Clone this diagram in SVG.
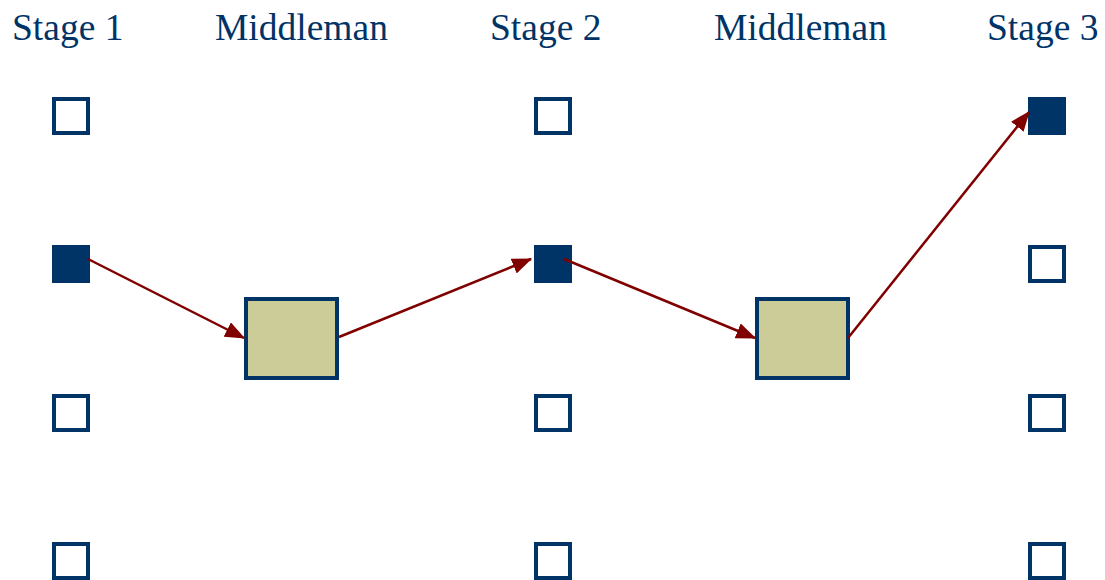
<svg xmlns="http://www.w3.org/2000/svg" width="1105" height="580" viewBox="0 0 1105 580">
  <style>
    .label { font-family: "Liberation Serif", "Times New Roman", serif; font-size: 37.5px; fill: #003366; }
    .slot { fill: #ffffff; stroke: #003366; stroke-width: 4; }
    .slot.on { fill: #003366; }
    .mid { fill: #cccc99; stroke: #003366; stroke-width: 4; }
    .flow { stroke: #800000; stroke-width: 2.5; fill: none; marker-end: url(#head); }
  </style>
  <defs>
    <marker id="head" markerWidth="8" markerHeight="6.4" refX="7.5" refY="3.2" orient="auto" markerUnits="strokeWidth">
      <path d="M0,0 L8,3.2 L0,6.4 z" fill="#800000"/>
    </marker>
  </defs>

  <g id="labels">
    <text class="label" x="12" y="40">Stage 1</text>
    <text class="label" x="215" y="40">Middleman</text>
    <text class="label" x="490" y="40">Stage 2</text>
    <text class="label" x="714" y="40">Middleman</text>
    <text class="label" x="987" y="40">Stage 3</text>
  </g>

  <!-- stage 1 column -->
  <g id="s1-1"><rect class="slot" x="54" y="99" width="34" height="34"/></g>
  <g id="s1-2"><rect class="slot on" x="54" y="247" width="34" height="34"/></g>
  <g id="s1-3"><rect class="slot" x="54" y="396" width="34" height="34"/></g>
  <g id="s1-4"><rect class="slot" x="54" y="544" width="34" height="34"/></g>

  <!-- stage 2 column -->
  <g id="s2-1"><rect class="slot" x="536" y="99" width="34" height="34"/></g>
  <g id="s2-2"><rect class="slot on" x="536" y="247" width="34" height="34"/></g>
  <g id="s2-3"><rect class="slot" x="536" y="396" width="34" height="34"/></g>
  <g id="s2-4"><rect class="slot" x="536" y="544" width="34" height="34"/></g>

  <!-- stage 3 column -->
  <g id="s3-1"><rect class="slot on" x="1030" y="99" width="34" height="34"/></g>
  <g id="s3-2"><rect class="slot" x="1030" y="247" width="34" height="34"/></g>
  <g id="s3-3"><rect class="slot" x="1030" y="396" width="34" height="34"/></g>
  <g id="s3-4"><rect class="slot" x="1030" y="544" width="34" height="34"/></g>

  <!-- middlemen -->
  <g id="mid-1"><rect class="mid" x="246" y="299" width="91" height="79"/></g>
  <g id="mid-2"><rect class="mid" x="757" y="299" width="91" height="79"/></g>

  <g id="connectors">
    <line class="flow" x1="88" y1="259" x2="244" y2="338"/>
    <line class="flow" x1="339" y1="337" x2="531" y2="259"/>
    <line class="flow" x1="564" y1="259" x2="755" y2="338"/>
    <line class="flow" x1="848" y1="338" x2="1029" y2="112"/>
  </g>
</svg>
